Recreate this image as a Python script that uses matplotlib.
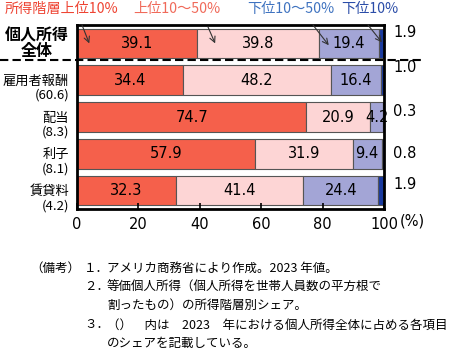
"""US personal income share by income bracket, per income component (2023)."""

import matplotlib

matplotlib.use("Agg")
import matplotlib.pyplot as plt
import matplotlib.transforms as mtransforms
from matplotlib.lines import Line2D
import numpy as np

plt.rcParams["font.family"] = ["Noto Sans CJK JP", "DejaVu Sans"]

ROW_LABELS = ["個人所得\n全体", "雇用者報酬\n(60.6)", "配当\n(8.3)", "利子\n(8.1)", "賃貸料\n(4.2)"]
TOP10 = [39.1, 34.4, 74.7, 57.9, 32.3]
TOP10_50 = [39.8, 48.2, 20.9, 31.9, 41.4]
BOTTOM10_50 = [19.4, 16.4, 4.2, 9.4, 24.4]
BOTTOM10 = [1.9, 1.0, 0.3, 0.8, 1.9]
SERIES_NAMES = ["所得階層上位10%", "上位10～50%", "下位10～50%", "下位10%"]
X_TICKS = [0, 20, 40, 60, 80, 100]

NOTES = [
    ("（備考）", "１．", "アメリカ商務省により作成。2023 年値。"),
    ("", "２．", "等価個人所得（個人所得を世帯人員数の平方根で"),
    ("", "", "割ったもの）の所得階層別シェア。"),
    ("", "３．", "（）\u3000内は\u30002023\u3000年における個人所得全体に占める各項目"),
    ("", "", "のシェアを記載している。"),
]

COLORS = ["#F5604B", "#FDD5D5", "#A3A5D6", "#1A3A9E"]
NAME_COLORS = ["#EE4433", "#F06A5A", "#3F73C0", "#2B4DA8"]

W, H = 461, 350


def main() -> None:
    fig = plt.figure(figsize=(W / 100, H / 100), dpi=100)
    ax = fig.add_axes([77 / W, 1 - 209 / H, 307 / W, 184 / H])

    series = [TOP10, TOP10_50, BOTTOM10_50, BOTTOM10]
    y = np.arange(len(ROW_LABELS))
    left = np.zeros(len(ROW_LABELS))
    for vals, color in zip(series, COLORS):
        vals = np.asarray(vals)
        ax.barh(y, vals, left=left, height=0.8, color=color, edgecolor="#555555", linewidth=0.8)
        for yi, (l, v) in enumerate(zip(left, vals)):
            if v >= 4:
                ax.text(l + v / 2, yi, f"{v:.1f}", ha="center", va="center", fontsize=10.5,
                        family="DejaVu Sans", clip_on=False)
        left += vals

    ax.set_xlim(0, 100)
    ax.set_ylim(len(ROW_LABELS) - 0.5, -0.5)
    ax.set_xticks(X_TICKS)
    ax.set_xticklabels([str(t) for t in X_TICKS], fontsize=10.5, family="DejaVu Sans")
    ax.set_yticks([])
    ax.tick_params(axis="x", direction="in", length=4, width=1.2, pad=6)
    for sp in ax.spines.values():
        sp.set_linewidth(2)
        sp.set_color("black")
    ax.text(1.05, -0.025, "(%)", transform=ax.transAxes, fontsize=10.5, family="DejaVu Sans",
            ha="left", va="top")

    # values of the bottom 10% written outside on the right
    side_offsets = [-0.3, -0.35, -0.16, 0.0, -0.16]
    for yi, (v, off) in enumerate(zip(BOTTOM10, side_offsets)):
        ax.text(103, yi + off, f"{v:.1f}", ha="left", va="center", fontsize=10.5,
                family="DejaVu Sans", clip_on=False)

    # row labels on the left
    trans = mtransforms.blended_transform_factory(fig.transFigure, ax.transData)
    for yi, lab in enumerate(ROW_LABELS):
        if yi == 0:
            ax.text(37 / W, yi, lab, transform=trans, ha="center", va="center",
                    fontsize=11.5, fontweight="bold", linespacing=1.0)
        else:
            ax.text(69 / W, yi + 0.22, lab, transform=trans, ha="right", va="center",
                    multialignment="right", fontsize=9.5, linespacing=1.1)

    # dashed separator below the total row
    fig.add_artist(Line2D([0, 423 / W], [1 - 60 / H, 1 - 60 / H], transform=fig.transFigure,
                          color="black", linewidth=1.5, dashes=(4, 2)))

    # series names with arrows
    name_x = [5, 133, 247, 341]
    arrow_start = [(82, 25), (208, 27), (313, 25), (368, 25)]
    arrow_end = [(4, 0.0), (45, 0.0), (82, 0.05), (99.3, -0.03)]
    for name, color, nx, st, en in zip(SERIES_NAMES, NAME_COLORS, name_x, arrow_start, arrow_end):
        fig.text(nx / W, 1 - 9 / H, name, color=color, fontsize=10.2, ha="left", va="center")
        ax.annotate("", xy=en, xycoords="data", xytext=(st[0], H - st[1]),
                    textcoords="figure pixels",
                    arrowprops=dict(arrowstyle="->", color="#333333", lw=0.8,
                                    shrinkA=0, shrinkB=0))

    # notes
    note_y = [268, 287, 305, 325, 343]
    for (head, num, body), ny in zip(NOTES, note_y):
        yy = 1 - ny / H
        if head:
            fig.text(30 / W, yy, head, fontsize=9, ha="left", va="center")
        if num:
            fig.text(84 / W, yy, num, fontsize=9, ha="left", va="center")
        fig.text(107 / W, yy, body, fontsize=9, ha="left", va="center")

    fig.savefig("out.png", dpi=100)
    plt.close(fig)


if __name__ == "__main__":
    main()
